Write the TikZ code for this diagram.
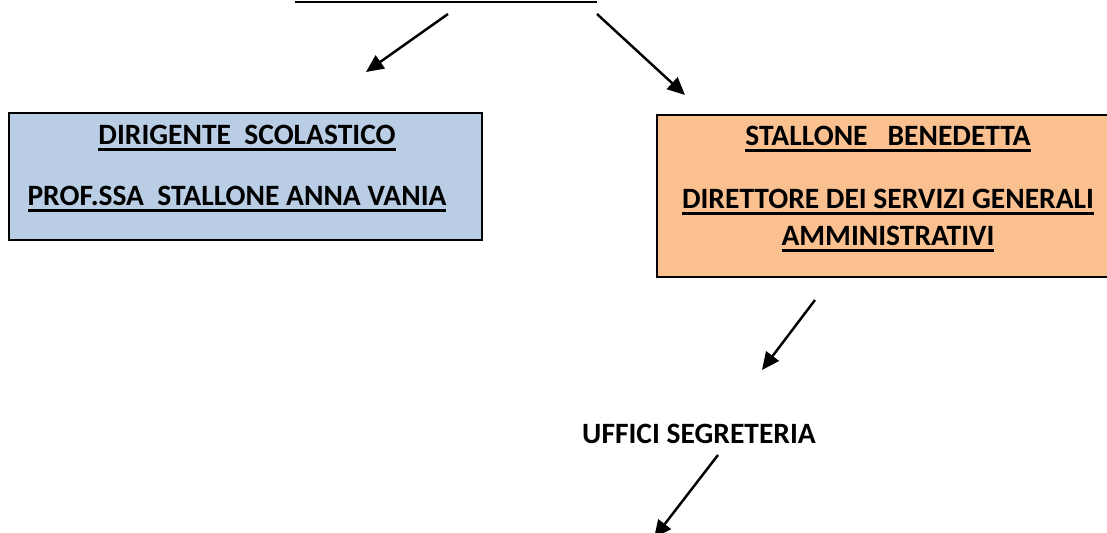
\documentclass[tikz,border=0pt]{standalone}
\usepackage{fontspec}
\setmainfont{Carlito}
\usetikzlibrary{arrows.meta}
\definecolor{azzurro}{HTML}{B9CDE5}
\definecolor{arancio}{HTML}{FAC090}
\newcommand{\sotto}[1]{\setbox0\hbox{#1}\leavevmode\rlap{\raisebox{-3.4pt}[0pt][0pt]{\rule{\wd0}{1.2pt}}}\box0}
\tikzset{
  freccia/.style={-{Triangle[length=10pt,width=9pt]}, line width=1.4pt},
  riquadro/.style={draw, line width=1.1pt, inner sep=0pt},
  voce/.style={font=\bfseries\fontsize{16.8}{19}\selectfont, inner sep=0pt}
}
\begin{document}
\begin{tikzpicture}[x=0.02cm, y=-0.02cm]
      \useasboundingbox (0,0) rectangle (1107,533);
      % riquadri
      \draw[riquadro, fill=azzurro] (9,113) rectangle (482,240);
      \draw[riquadro, fill=arancio] (657,115) rectangle (1115,277);
      \draw
        (247,135) node[voce] (dirigente){\sotto{DIRIGENTE\ \ SCOLASTICO}}
        (237,196) node[voce] (preside){\sotto{PROF.SSA\ \ STALLONE ANNA VANIA}}
        (888,136) node[voce] (dsga){\sotto{STALLONE\ \ \ BENEDETTA}}
        (888,199) node[voce] (ruolo1){\sotto{DIRETTORE DEI SERVIZI GENERALI}}
        (888,236) node[voce] (ruolo2){\sotto{AMMINISTRATIVI}}
        (699,434) node[voce] (uffici){UFFICI SEGRETERIA};
      % coordinate delle frecce
      \coordinate (s1) at (448,14);
      \coordinate (e1) at (366,72);
      \coordinate (s2) at (597,14);
      \coordinate (e2) at (685,95);
      \coordinate (s3) at (815,300);
      \coordinate (e3) at (762,370);
      \coordinate (s4) at (718,455);
      \coordinate (e4) at (654,538);
      \coordinate (u1) at (295,2);
      \coordinate (u2) at (597,2);
      \draw[line width=1.4pt] (u1) -- (u2);
      \begin{scope}[freccia]
        \draw (s1) to (e1);
        \draw (s2) to (e2);
        \draw (s3) to (e3);
        \draw (s4) to (e4);
      \end{scope}
    \end{tikzpicture}
\end{document}
